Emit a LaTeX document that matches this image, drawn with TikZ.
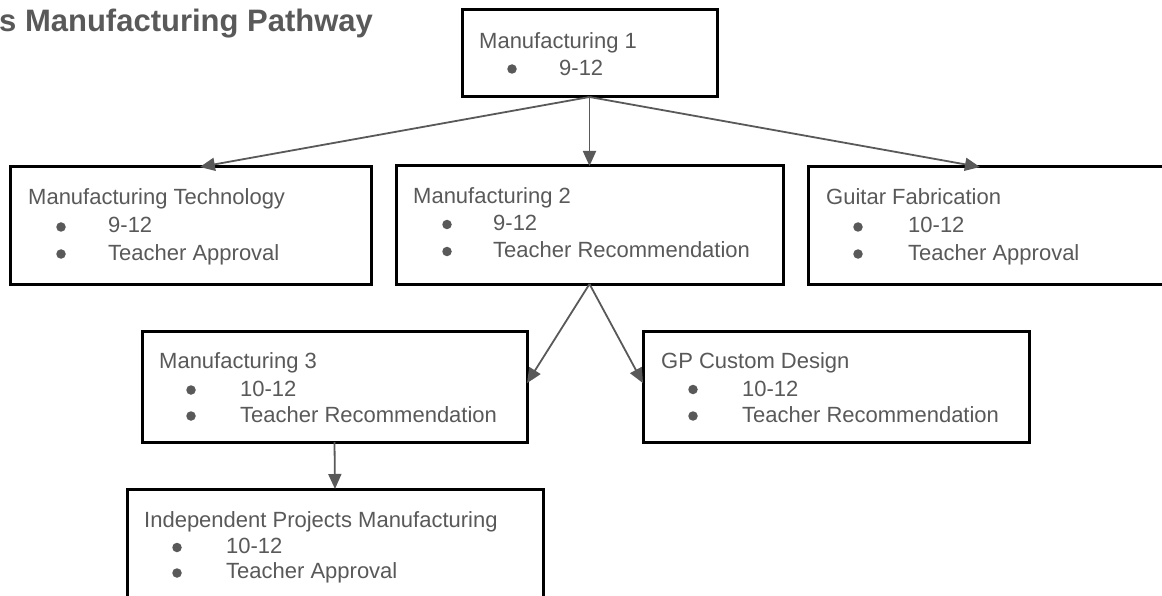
\documentclass[tikz,border=0pt]{standalone}
\usepackage{fontspec}
\setmainfont{Liberation Sans}
\usetikzlibrary{arrows.meta,calc}
\definecolor{txtgray}{HTML}{595959}
\definecolor{arrgray}{HTML}{595959}
\begin{document}
\begin{tikzpicture}[x=1pt,y=-1pt,
  box/.style={draw=black,line width=3pt,fill=white,anchor=north west,inner sep=0pt,outer sep=0pt},
  txt/.style={text=txtgray,font=\fontsize{22}{26}\selectfont,inner sep=0pt,anchor=base west},
  dot/.style={circle,fill=txtgray,draw=none,minimum size=9.5pt,inner sep=0pt},
  ttl/.style={text=txtgray,font=\fontsize{31}{36}\selectfont\bfseries,inner sep=0pt,anchor=base west},
  conn/.style={draw=arrgray,line width=1.8pt,-{Triangle[length=15pt,width=13pt]}}]
\useasboundingbox (0,0) rectangle (1162,596);

\node[ttl] (title) at (-1,32) {s Manufacturing Pathway};

% boxes
\node[box,minimum width=255,minimum height=87] (m1) at (462,10) {};
\node[box,minimum width=361,minimum height=117] (mt) at (10,167) {};
\node[box,minimum width=387,minimum height=118] (m2) at (396,166) {};
\node[box,minimum width=365,minimum height=117] (gf) at (808,167) {};
\node[box,minimum width=385,minimum height=111] (m3) at (142,331) {};
\node[box,minimum width=386,minimum height=111] (gp) at (643,331) {};
\node[box,minimum width=416,minimum height=122] (ipm) at (127,489) {};

% Manufacturing 1
\node[txt] (m1t) at (479,49) {Manufacturing 1};
\node[dot] (m1b1) at (512,69) {};
\node[txt] (m1i1) at (559,76) {9-12};

% Manufacturing Technology
\node[txt] (mtt) at (28,205) {Manufacturing Technology};
\node[dot] (mtb1) at (61,227) {};
\node[txt] (mti1) at (108,233) {9-12};
\node[dot] (mtb2) at (61,254) {};
\node[txt] (mti2) at (108,260) {Teacher Approval};

% Manufacturing 2
\node[txt] (m2t) at (413,204) {Manufacturing 2};
\node[dot] (m2b1) at (447,224.5) {};
\node[txt] (m2i1) at (493,231) {9-12};
\node[dot] (m2b2) at (447,251.5) {};
\node[txt] (m2i2) at (493,258) {Teacher Recommendation};

% Guitar Fabrication
\node[txt] (gft) at (826,205) {Guitar Fabrication};
\node[dot] (gfb1) at (858,227) {};
\node[txt] (gfi1) at (908,233) {10-12};
\node[dot] (gfb2) at (858,254) {};
\node[txt] (gfi2) at (908,260) {Teacher Approval};

% Manufacturing 3
\node[txt] (m3t) at (159,368) {Manufacturing 3};
\node[dot] (m3b1) at (191,390) {};
\node[txt] (m3i1) at (240,396) {10-12};
\node[dot] (m3b2) at (191,416) {};
\node[txt] (m3i2) at (240,422) {Teacher Recommendation};

% GP Custom Design
\node[txt] (gpt) at (661,368) {GP Custom Design};
\node[dot] (gpb1) at (693,389.5) {};
\node[txt] (gpi1) at (742,396) {10-12};
\node[dot] (gpb2) at (693,416) {};
\node[txt] (gpi2) at (742,422) {Teacher Recommendation};

% Independent Projects Manufacturing
\node[txt] (ipmt) at (144,527) {Independent Projects Manufacturing};
\node[dot] (ipmb1) at (177,547.5) {};
\node[txt] (ipmi1) at (226,553) {10-12};
\node[dot] (ipmb2) at (177,573) {};
\node[txt] (ipmi2) at (226,578) {Teacher Approval};

% connectors
\draw[conn] (m1.south) -- ($(mt.north west)!0.526!(mt.north east)$);
\draw[conn] (m1.south) -- (m2.north);
\draw[conn] (m1.south) -- ($(gf.north west)!0.471!(gf.north east)$);
\draw[conn] (m2.south) -- ($(m3.north east)!0.47!(m3.south east)$);
\draw[conn] (m2.south) -- ($(gp.north west)!0.47!(gp.south west)$);
\draw[conn] (m3.south) -- (ipm.north);
\end{tikzpicture}
\end{document}
